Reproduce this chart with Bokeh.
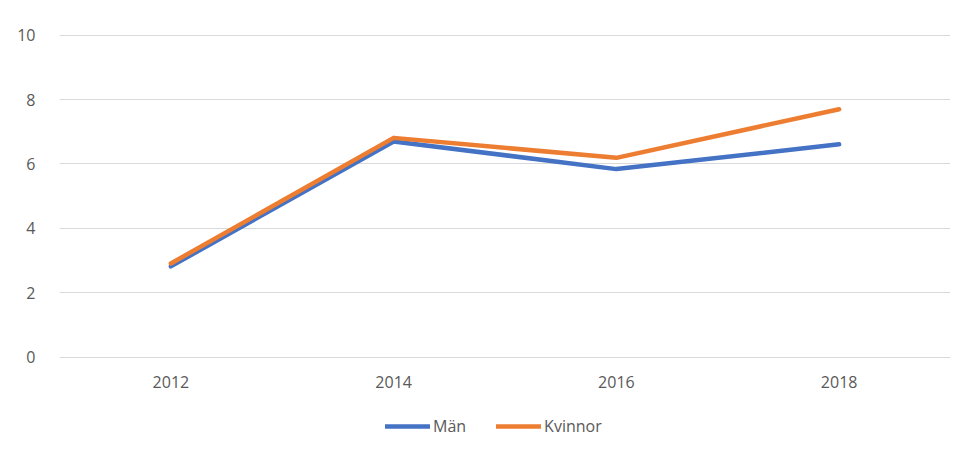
from bokeh.plotting import figure
from bokeh.models import FactorRange, Range1d, Legend, LegendItem, FixedTicker
from bokeh.embed import file_html
from bokeh.resources import INLINE

years = ["2012", "2014", "2016", "2018"]
man = [2.82, 6.7, 5.84, 6.61]
kvinnor = [2.91, 6.81, 6.19, 7.7]
y_ticks = [0, 2, 4, 6, 8, 10]

FONT = "Open Sans"
GRAY = "#595959"

# frame extends down to the bottom so that the legend can sit inside it
p = figure(frame_width=891, frame_height=418, output_backend="svg", toolbar_location=None,
           x_range=FactorRange(*years), y_range=Range1d(-2.96, 10.02),
           min_border_left=59, min_border_right=13, min_border_top=34, min_border_bottom=0)
p.outline_line_color = None
p.background_fill_color = "white"

r1 = p.line(years, man, line_color="#4472C4", line_width=4.5, line_cap="round", line_join="round")
r2 = p.line(years, kvinnor, line_color="#ED7D31", line_width=4.5, line_cap="round", line_join="round")

p.xgrid.grid_line_color = None
p.ygrid.grid_line_color = "#d9d9d9"
p.ygrid.grid_line_width = 1
p.yaxis.ticker = FixedTicker(ticks=y_ticks)
p.xaxis.fixed_location = 0

for ax in (p.xaxis[0], p.yaxis[0]):
    ax.axis_line_color = None
    ax.major_tick_line_color = None
    ax.minor_tick_line_color = None
    ax.major_label_text_font = FONT
    ax.major_label_text_font_size = "16px"
    ax.major_label_text_color = GRAY
p.yaxis.major_label_standoff = 18
p.xaxis.major_label_standoff = 13

legend = Legend(items=[LegendItem(label="Män", renderers=[r1]),
                       LegendItem(label="Kvinnor", renderers=[r2])],
                orientation="horizontal", location=(326, 15),
                label_text_font=FONT, label_text_font_size="16px", label_text_color=GRAY,
                glyph_width=45, glyph_height=16, label_standoff=3, spacing=30,
                border_line_color=None, background_fill_alpha=0, margin=0, padding=0)
p.add_layout(legend, "center")

open("out.html", "w").write(file_html(p, INLINE))
